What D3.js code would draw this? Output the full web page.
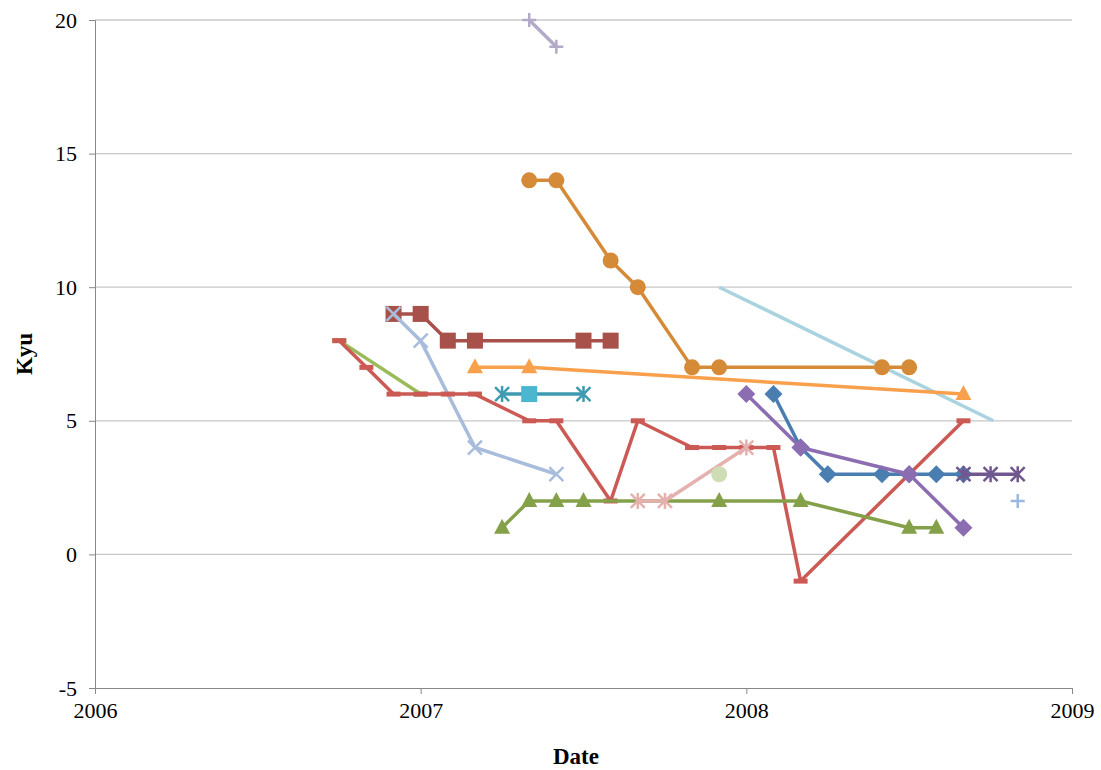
<!DOCTYPE html><html><head><meta charset="utf-8"><script src="https://cdn.jsdelivr.net/npm/d3@7"></script>
<style>body{margin:0;background:#fff}text{font-family:"Liberation Serif",serif}</style></head><body><svg id="c" width="1101" height="770"></svg>
<script>
// months since Jan 2006
const sLavPlus=[[16,20],[17,19]];
const sOrangeCirc=[[16,14],[17,14],[19,11],[20,10],[22,7],[23,7],[29,7],[30,7]];
const sLightBlue=[[23,10],[33.1,5]];
const sDarkRedSq=[[11,9],[12,9],[13,8],[14,8],[18,8],[19,8]];
const sOrangeTri=[[14,7],[16,7],[32,6]];
const sGreenLine=[[9,8],[12,6]];
const sRedDash=[[9,8],[10,7],[11,6],[12,6],[13,6],[14,6],[16,5],[17,5],[19,2],[20,5],[22,4],[23,4],[24,4],[25,4],[26,-1],[32,5]];
const sSteelX=[[11,9],[12,8],[14,4],[17,3]];
const sTealStar=[[15,6],[16,6],[18,6]];
const sCyanSq=[[16,6]];
const sOliveTri=[[15,1],[16,2],[17,2],[18,2],[19,2],[23,2],[26,2],[30,1],[31,1]];
const oliveMarked=[15,16,17,18,23,26,30,31];
const sPinkStar=[[20,2],[21,2],[24,4]];
const sPaleGreen=[[23,3]];
const sPurpleDia=[[24,6],[26,4],[30,3],[32,1]];
const sBlueDia=[[25,6],[26,4],[27,3],[29,3],[30,3],[31,3],[32,3]];
const sDarkPurpStar=[[32,3],[33,3],[34,3]];
const sBluePlus=[[34,2]];
const yTicks=[-5,0,5,10,15,20];
const xTicks=[2006,2007,2008,2009];

const svg=d3.select("#c");
const x=d3.scaleLinear().domain([0,36]).range([95,1072]);
const y=d3.scaleLinear().domain([-5,20]).range([688,20]);
const g=svg.append("g");
yTicks.forEach(t=>{if(t>-5)g.append("line").attr("x1",95).attr("x2",1072).attr("y1",y(t)).attr("y2",y(t)).attr("stroke","#c8c8c8").attr("stroke-width",1.3);});
svg.append("g").attr("transform","translate(95,0)").call(d3.axisLeft(y).tickValues(yTicks).tickSize(6).tickPadding(12).tickFormat(d=>String(d)))
 .call(a=>{a.selectAll("text").attr("font-size",22).attr("fill","#000");a.selectAll("line,path").attr("stroke","#888");});
svg.append("g").attr("transform","translate(0,688)").call(d3.axisBottom(x).tickValues(xTicks.map(v=>(v-2006)*12)).tickSize(6).tickPadding(8).tickFormat((d,i)=>xTicks[i]))
 .call(a=>{a.selectAll("text").attr("font-size",22).attr("fill","#000");a.selectAll("line,path").attr("stroke","#888");});
svg.append("text").attr("x",576).attr("y",764).attr("text-anchor","middle").attr("font-size",23).attr("font-weight","bold").text("Date");
svg.append("text").attr("transform","translate(32,354)rotate(-90)").attr("text-anchor","middle").attr("font-size",23).attr("font-weight","bold").text("Kyu");
const line=d3.line().x(d=>x(d[0])).y(d=>y(d[1]));
function ser(data,color,marker,opt={}){
 if(data.length>1&&!opt.noLine)svg.append("path").attr("d",line(data)).attr("fill","none").attr("stroke",color).attr("stroke-width",3.5).attr("stroke-linejoin","round");
 const pts=opt.marked?data.filter(d=>opt.marked.includes(d[0])):data;
 pts.forEach(d=>{const cx=x(d[0]),cy=y(d[1]);const gg=svg.append("g").attr("transform",`translate(${cx},${cy})`);
  const mc=opt.mc||color;
  if(marker==="circle")gg.append("circle").attr("r",8).attr("fill",mc);
  else if(marker==="square")gg.append("rect").attr("x",-8).attr("y",-8).attr("width",16).attr("height",16).attr("fill",mc);
  else if(marker==="tri")gg.append("path").attr("d","M0,-9L8,6L-8,6Z").attr("fill",mc);
  else if(marker==="dia")gg.append("path").attr("d","M0,-9L9,0L0,9L-9,0Z").attr("fill",mc);
  else if(marker==="dash")gg.append("rect").attr("x",-7).attr("y",-2.5).attr("width",14).attr("height",5).attr("fill",mc);
  else if(marker==="x")gg.append("path").attr("d","M-7,-7L7,7M7,-7L-7,7").attr("stroke",mc).attr("stroke-width",2.5);
  else if(marker==="plus")gg.append("path").attr("d","M-7,0L7,0M0,-7L0,7").attr("stroke",mc).attr("stroke-width",2.5);
  else if(marker==="star")gg.append("path").attr("d","M-7,-7L7,7M7,-7L-7,7M0,-8L0,8").attr("stroke",mc).attr("stroke-width",2.5);
 });
}
ser(sLightBlue,"#a9d3de",null);
ser(sLavPlus,"#b3aac8","plus");
ser(sOrangeCirc,"#d58a37","circle");
ser(sDarkRedSq,"#a8504a","square");
ser(sOrangeTri,"#f9a04c","tri");
ser(sGreenLine,"#9bbb59","dash");
ser(sSteelX,"#a8bcdc","x");
ser(sRedDash,"#cc5a54","dash");
ser(sTealStar,"#3f9bb0","star");
ser(sCyanSq,"#4bb6d0","square");
ser(sOliveTri,"#84a14a","tri",{marked:oliveMarked});
ser(sPinkStar,"#e4b1ae","star");
ser(sPaleGreen,"#cfddb6","circle");
ser(sBlueDia,"#4a7eb0","dia");
ser(sPurpleDia,"#8c6db2","dia");
ser(sDarkPurpStar,"#70588f","star");
ser(sBluePlus,"#9ab9e0","plus");
</script></body></html>
